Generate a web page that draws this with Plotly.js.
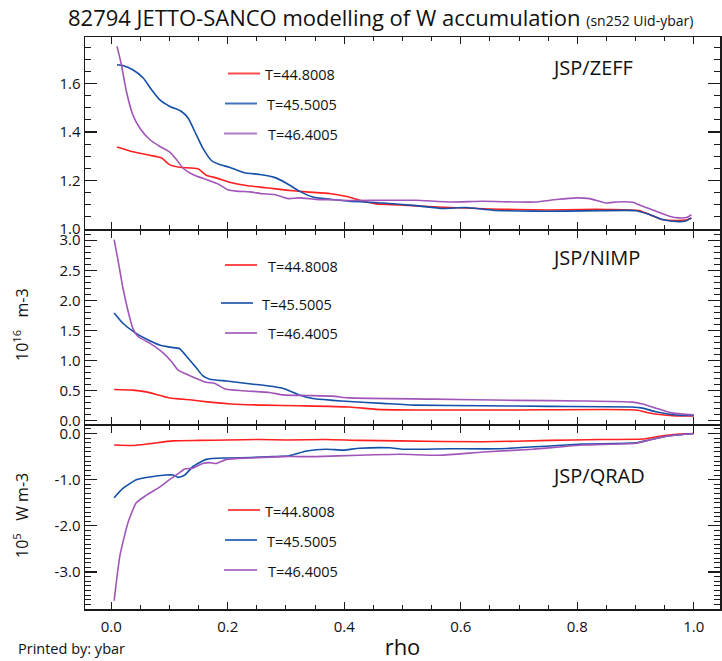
<!DOCTYPE html>
<html><head><meta charset="utf-8">
<script src="https://cdn.plot.ly/plotly-3.0.1.min.js"></script>
<style>html,body{margin:0;padding:0;background:#fff}#chart{width:722px;height:661px}</style>
</head><body><div id="chart"></div>
<script>
// ---------- data ----------
const timeLabels = ['T=44.8008', 'T=45.5005', 'T=46.4005'];
const panelLabels = ['JSP/ZEFF', 'JSP/NIMP', 'JSP/QRAD'];
const xTickVals = [0, 0.2, 0.4, 0.6, 0.8, 1.0];
const xTickText = ['0.0', '0.2', '0.4', '0.6', '0.8', '1.0'];
const zeffTickVals = [1.0, 1.2, 1.4, 1.6];
const zeffTickText = ['1.0', '1.2', '1.4', '1.6'];
const nimpTickVals = [0, 0.5, 1.0, 1.5, 2.0, 2.5, 3.0];
const nimpTickText = ['0.0', '0.5', '1.0', '1.5', '2.0', '2.5', '3.0'];
const qradTickVals = [0, -1, -2, -3];
const qradTickText = ['0.0', '-1.0', '-2.0', '-3.0'];

// JSP/ZEFF
const zeffRhoRed = [0.01,0.037,0.066,0.086,0.100,0.117,0.149,0.163,0.180,0.203,0.232,0.266,0.300,0.335,0.375,0.386,0.409,0.430,0.455,0.495,0.552,0.609,0.649,0.695,0.752,0.809,0.855,0.906,0.924,0.946,0.969,0.986,0.996];
const zeffRed    = [1.338,1.318,1.304,1.293,1.265,1.254,1.248,1.221,1.210,1.192,1.178,1.169,1.159,1.152,1.145,1.141,1.130,1.115,1.102,1.098,1.090,1.085,1.081,1.079,1.077,1.079,1.079,1.075,1.058,1.037,1.033,1.035,1.044];
const zeffRhoBlue = [0.01,0.020,0.037,0.055,0.069,0.083,0.100,0.120,0.132,0.146,0.157,0.172,0.186,0.203,0.229,0.255,0.280,0.300,0.323,0.346,0.380,0.409,0.466,0.523,0.569,0.609,0.655,0.724,0.781,0.838,0.901,0.924,0.946,0.969,0.986,0.996];
const zeffBlue    = [1.679,1.676,1.658,1.624,1.576,1.534,1.507,1.486,1.458,1.389,1.334,1.282,1.265,1.254,1.231,1.224,1.212,1.189,1.155,1.131,1.120,1.113,1.106,1.095,1.083,1.087,1.076,1.072,1.072,1.074,1.074,1.058,1.037,1.029,1.031,1.044];
const zeffRhoPurple = [0.01,0.0175,0.026,0.037,0.049,0.066,0.083,0.100,0.112,0.123,0.140,0.163,0.183,0.200,0.215,0.238,0.260,0.280,0.303,0.323,0.352,0.380,0.409,0.466,0.523,0.581,0.638,0.695,0.729,0.764,0.798,0.821,0.849,0.867,0.895,0.912,0.935,0.958,0.975,0.989,0.996];
const zeffPurple    = [1.755,1.679,1.569,1.472,1.417,1.369,1.341,1.318,1.286,1.251,1.224,1.203,1.185,1.161,1.155,1.152,1.144,1.141,1.124,1.127,1.121,1.119,1.116,1.117,1.117,1.110,1.113,1.110,1.110,1.120,1.127,1.124,1.106,1.110,1.109,1.092,1.072,1.051,1.044,1.047,1.058];

// JSP/NIMP (1e16 m-3)
const nimpRhoRed = [0.005,0.037,0.060,0.100,0.135,0.169,0.206,0.263,0.323,0.409,0.455,0.523,0.695,0.901,0.924,0.946,0.969,1.0];
const nimpRed    = [0.52,0.51,0.48,0.38,0.35,0.31,0.28,0.26,0.25,0.23,0.19,0.18,0.18,0.18,0.13,0.10,0.08,0.08];
const nimpRhoBlue = [0.005,0.020,0.040,0.060,0.083,0.103,0.117,0.132,0.146,0.157,0.169,0.198,0.233,0.278,0.298,0.323,0.346,0.380,0.409,0.466,0.523,0.638,0.752,0.895,0.912,0.935,0.958,0.981,1.0];
const nimpBlue    = [1.79,1.62,1.47,1.36,1.26,1.22,1.20,1.04,0.88,0.75,0.69,0.66,0.62,0.57,0.53,0.43,0.37,0.34,0.32,0.29,0.26,0.25,0.24,0.23,0.21,0.15,0.11,0.09,0.09];
const nimpRhoPurple = [0.005,0.012,0.020,0.029,0.037,0.046,0.066,0.089,0.103,0.115,0.135,0.163,0.178,0.195,0.226,0.272,0.295,0.336,0.380,0.409,0.552,0.695,0.809,0.895,0.912,0.935,0.958,0.981,1.0];
const nimpPurple    = [3.01,2.65,2.21,1.82,1.54,1.40,1.29,1.13,0.99,0.84,0.75,0.64,0.62,0.53,0.50,0.47,0.43,0.42,0.41,0.38,0.36,0.34,0.33,0.31,0.28,0.21,0.14,0.11,0.10];

// JSP/QRAD (1e5 W m-3)
const qradRhoRed = [0.005,0.037,0.066,0.106,0.152,0.198,0.255,0.301,0.369,0.426,0.495,0.638,0.752,0.838,0.912,0.946,0.975,1.0];
const qradRed    = [-0.25,-0.26,-0.22,-0.16,-0.15,-0.14,-0.13,-0.14,-0.13,-0.15,-0.16,-0.18,-0.15,-0.13,-0.12,-0.05,-0.01,0.0];
const qradRhoBlue = [0.005,0.020,0.043,0.066,0.094,0.106,0.115,0.126,0.140,0.163,0.198,0.238,0.278,0.306,0.335,0.369,0.398,0.426,0.478,0.501,0.581,0.666,0.752,0.809,0.901,0.924,0.958,1.0];
const qradBlue    = [-1.39,-1.19,-1.00,-0.94,-0.90,-0.90,-0.95,-0.90,-0.72,-0.56,-0.53,-0.52,-0.50,-0.48,-0.38,-0.34,-0.36,-0.32,-0.31,-0.34,-0.33,-0.33,-0.27,-0.23,-0.20,-0.14,-0.05,0.0];
const qradRhoPurple = [0.005,0.015,0.029,0.043,0.060,0.083,0.100,0.115,0.126,0.140,0.157,0.169,0.180,0.198,0.238,0.295,0.352,0.426,0.495,0.564,0.638,0.724,0.809,0.901,0.924,0.958,1.0];
const qradPurple    = [-3.62,-2.64,-1.92,-1.50,-1.34,-1.16,-1.00,-0.87,-0.77,-0.75,-0.65,-0.63,-0.65,-0.56,-0.53,-0.50,-0.50,-0.47,-0.45,-0.47,-0.40,-0.34,-0.25,-0.21,-0.14,-0.05,0.0];

// ---------- styling ----------
const COLORS = ['#ff1f1f', '#1450a8', '#a055b8'];
const FONT = '"Open Sans", "Noto Sans", sans-serif';
const W = 722, H = 661;
const M = {l: 85, r: 2, t: 37, b: 52};
const PW = W - M.l - M.r, PH = H - M.t - M.b;
const px = X => (X - M.l) / PW;            // pixel -> paper x
const py = Y => (H - M.b - Y) / PH;        // pixel -> paper y

const panels = [
  {rho: [zeffRhoRed, zeffRhoBlue, zeffRhoPurple], val: [zeffRed, zeffBlue, zeffPurple], xa: 'x', ya: 'y'},
  {rho: [nimpRhoRed, nimpRhoBlue, nimpRhoPurple], val: [nimpRed, nimpBlue, nimpPurple], xa: 'x2', ya: 'y2'},
  {rho: [qradRhoRed, qradRhoBlue, qradRhoPurple], val: [qradRed, qradBlue, qradPurple], xa: 'x3', ya: 'y3'}
];

const traces = [];
panels.forEach(p => {
  for (let i = 0; i < 3; i++) {
    traces.push({
      type: 'scatter', mode: 'lines', x: p.rho[i], y: p.val[i],
      xaxis: p.xa, yaxis: p.ya, name: timeLabels[i], showlegend: false,
      line: {color: COLORS[i], width: 1.6, shape: 'spline', smoothing: 0.5}, hoverinfo: 'skip'
    });
  }
});

const AX = {
  showline: true, linecolor: '#1a1a1a', linewidth: 1.5, mirror: 'ticks',
  ticks: 'inside', tickcolor: '#1a1a1a', tickwidth: 1.2,
  showgrid: false, zeroline: false, fixedrange: true,
  tickfont: {family: FONT, size: 15, color: '#111'}
};
const xBase = Object.assign({}, AX, {
  range: [-0.045, 1.045], tickmode: 'array', tickvals: xTickVals, ticktext: xTickText,
  ticklen: 7, ticklabelstandoff: 3,
  minor: {ticks: 'inside', tickmode: 'linear', tick0: 0, dtick: 0.05, ticklen: 4, tickcolor: '#1a1a1a', tickwidth: 1}
});

const layout = {
  width: W, height: H, margin: M, paper_bgcolor: '#fff', plot_bgcolor: '#fff',
  showlegend: false,
  title: {
    text: '82794 JETTO-SANCO modelling of W accumulation <span style="font-size:14px">(sn252 Uid-ybar)</span>',
    font: {family: FONT, size: 22, color: '#111'},
    xref: 'container', yref: 'container', x: 68 / W, xanchor: 'left', y: 1 - 18 / H, yanchor: 'middle'
  },
  xaxis: Object.assign({}, xBase, {anchor: 'y', showticklabels: false}),
  xaxis2: Object.assign({}, xBase, {anchor: 'y2', showticklabels: false, matches: 'x'}),
  xaxis3: Object.assign({}, xBase, {anchor: 'y3', showticklabels: true, matches: 'x',
    title: {text: 'rho', font: {family: FONT, size: 22, color: '#111'}, standoff: 8}}),
  yaxis: Object.assign({}, AX, {
    domain: [py(229), 1], range: [0.998, 1.794], anchor: 'x',
    tickmode: 'array', tickvals: zeffTickVals, ticktext: zeffTickText, ticklen: 12,
    minor: {ticks: 'inside', tickmode: 'linear', tick0: 1.0, dtick: 0.05, ticklen: 6, tickcolor: '#1a1a1a', tickwidth: 1}
  }),
  yaxis2: Object.assign({}, AX, {
    domain: [py(423.5), py(231)], range: [-0.045, 3.153], anchor: 'x2',
    tickmode: 'array', tickvals: nimpTickVals, ticktext: nimpTickText, ticklen: 12,
    minor: {ticks: 'inside', tickmode: 'linear', tick0: 0, dtick: 0.1, ticklen: 6, tickcolor: '#1a1a1a', tickwidth: 1}
  }),
  yaxis3: Object.assign({}, AX, {
    domain: [0, py(425.5)], range: [-3.799, 0.173], anchor: 'x3',
    tickmode: 'array', tickvals: qradTickVals, ticktext: qradTickText, ticklen: 12,
    minor: {ticks: 'inside', tickmode: 'linear', tick0: 0, dtick: 0.1, ticklen: 6, tickcolor: '#1a1a1a', tickwidth: 1}
  }),
  shapes: [],
  annotations: []
};

// panel labels
const panelLabelY = [68, 257, 475];
panelLabels.forEach((t, k) => {
  layout.annotations.push({
    text: t, xref: 'paper', yref: 'paper', x: px(550), y: py(panelLabelY[k]),
    xanchor: 'left', yanchor: 'middle', showarrow: false,
    font: {family: FONT, size: 20, color: '#111'}
  });
});

// in-panel key: line sample + time label
const keyPos = [
  [[228, 260, 73.5, 263], [225, 257, 103.5, 265], [224, 257, 133.5, 266]],
  [[225, 257, 265, 266], [221, 253, 303, 260], [225, 257, 333, 266]],
  [[228, 260, 510, 263], [225, 257, 540, 265], [224, 257, 570, 266]]
];
keyPos.forEach(rows => rows.forEach((r, i) => {
  layout.shapes.push({type: 'line', xref: 'paper', yref: 'paper',
    x0: px(r[0]), x1: px(r[1]), y0: py(r[2]), y1: py(r[2]),
    line: {color: COLORS[i], width: 2}, opacity: 0.8});
  layout.annotations.push({text: timeLabels[i], xref: 'paper', yref: 'paper',
    x: px(r[3]), y: py(r[2] + 1), xanchor: 'left', yanchor: 'middle', showarrow: false,
    font: {family: FONT, size: 14.5, color: '#111'}});
}));

// y-axis unit titles
layout.annotations.push({text: '10<sup>16</sup>\u00a0\u00a0\u00a0m-3', xref: 'paper', yref: 'paper',
  x: px(21), y: py(325), textangle: -90, xanchor: 'center', yanchor: 'middle', showarrow: false,
  font: {family: FONT, size: 16, color: '#111'}});
layout.annotations.push({text: '10<sup>5</sup>\u00a0\u00a0\u00a0W m-3', xref: 'paper', yref: 'paper',
  x: px(21), y: py(516), textangle: -90, xanchor: 'center', yanchor: 'middle', showarrow: false,
  font: {family: FONT, size: 16, color: '#111'}});

// footer
layout.annotations.push({text: 'Printed by: ybar', xref: 'paper', yref: 'paper',
  x: px(16), y: py(648), xanchor: 'left', yanchor: 'middle', showarrow: false,
  font: {family: FONT, size: 14.5, color: '#111'}});

Plotly.newPlot('chart', traces, layout, {staticPlot: true, displayModeBar: false});
</script>
</body></html>
